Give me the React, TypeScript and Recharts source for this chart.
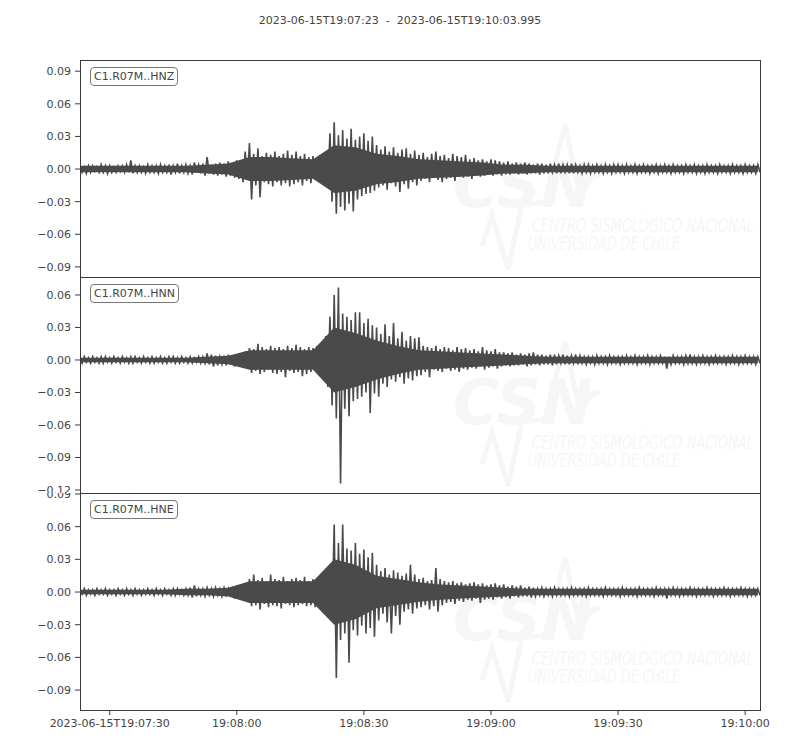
import { Area, AreaChart, Line, LineChart, XAxis, YAxis } from "recharts";

const WAVE = "#4a4a4a";
const INK = "#444444";
const SPINE = "#3a3a3a";
const MARK = "#f6f6f6";
const FONT = "'DejaVu Sans', sans-serif";

const title = "2023-06-15T19:07:23  -  2023-06-15T19:10:03.995";

// seconds after 19:07:23
const timeTicks = [7, 37, 67, 97, 127, 157];
const timeLabels = ["2023-06-15T19:07:30", "19:08:00", "19:08:30", "19:09:00", "19:09:30", "19:10:00"];

const ticksZ = [-0.09, -0.06, -0.03, 0, 0.03, 0.06, 0.09];
const ticksN = [-0.12, -0.09, -0.06, -0.03, 0, 0.03, 0.06];
const ticksE = [-0.09, -0.06, -0.03, 0, 0.03, 0.06, 0.09];

// peaks per second, thousandths (hi = upper swing, lo = lower swing)
const hnzHi = [
  3, 2, 3, 3, 2, 4, 3, 3, 2, 3,
  3, 4, 8, 3, 3, 2, 4, 3, 3, 4,
  3, 4, 3, 5, 3, 4, 3, 6, 4, 5,
  11, 4, 5, 6, 5, 7, 6, 8, 7, 16,
  24, 14, 19, 12, 15, 13, 16, 12, 14, 17,
  13, 16, 12, 14, 11, 12, 10, 11, 15, 33,
  43, 31, 36, 28, 37, 27, 30, 33, 26, 30,
  22, 18, 21, 16, 20, 15, 18, 19, 14, 17,
  13, 15, 11, 14, 16, 12, 13, 10, 14, 12,
  11, 13, 9, 10, 8, 9, 7, 9, 8, 7,
  6, 7, 5, 6, 5, 6, 5, 4, 5, 5,
  4, 5, 4, 5, 4, 4, 5, 4, 3, 4,
  4, 3, 4, 3, 4, 3, 4, 4, 3, 4,
  3, 4, 3, 4, 3, 3, 4, 3, 4, 3,
  4, 3, 3, 4, 3, 4, 3, 3, 4, 3,
  3, 4, 3, 3, 4, 3, 3, 4, 3, 3,
  4,
];
const hnzLo = [
  -3, -4, -3, -2, -3, -3, -4, -3, -3, -2,
  -3, -3, -4, -3, -3, -4, -3, -3, -4, -3,
  -3, -5, -3, -4, -3, -4, -5, -3, -4, -6,
  -4, -5, -6, -5, -7, -6, -8, -9, -12, -10,
  -28, -15, -26, -12, -14, -16, -12, -15, -13, -16,
  -14, -12, -15, -11, -13, -10, -12, -9, -14, -30,
  -41, -35, -38, -32, -39, -28, -25, -23, -22, -20,
  -17, -15, -19, -13, -16, -21, -14, -18, -12, -15,
  -11, -9, -12, -8, -10, -12, -9, -8, -11, -7,
  -8, -7, -9, -6, -7, -6, -5, -6, -5, -6,
  -5, -5, -4, -5, -4, -5, -4, -4, -5, -4,
  -4, -3, -4, -4, -3, -4, -4, -3, -4, -3,
  -4, -3, -3, -4, -3, -4, -3, -3, -4, -3,
  -3, -4, -3, -3, -4, -3, -4, -3, -3, -4,
  -3, -3, -4, -3, -3, -4, -3, -4, -3, -3,
  -4, -3, -3, -4, -3, -3, -4, -3, -3, -4,
  -3,
];

const hnnHi = [
  2, 3, 2, 3, 2, 3, 3, 2, 3, 2,
  3, 2, 3, 3, 2, 3, 2, 3, 2, 3,
  2, 3, 3, 2, 3, 2, 3, 2, 3, 3,
  6, 5, 4, 3, 4, 5, 4, 5, 6, 8,
  11, 10, 15, 12, 10, 13, 11, 12, 10, 13,
  11, 14, 12, 10, 12, 11, 13, 10, 22, 40,
  60, 67, 43, 40, 37, 44, 44, 34, 38, 32,
  30, 24, 33, 22, 34, 20, 26, 18, 22, 20,
  21, 13, 12, 11, 13, 10, 12, 11, 9, 12,
  10, 11, 9, 10, 8, 12, 9, 8, 10, 7,
  7, 6, 7, 5, 6, 5, 6, 7, 5, 5,
  4, 5, 5, 4, 5, 4, 4, 5, 4, 3,
  3, 3, 4, 3, 3, 4, 3, 3, 3, 4,
  3, 4, 3, 3, 4, 3, 3, 4, 3, 3,
  4, 3, 3, 4, 5, 3, 3, 4, 3, 3,
  4, 3, 3, 3, 4, 3, 3, 4, 3, 3,
  3,
];
const hnnLo = [
  -3, -2, -3, -2, -3, -3, -2, -3, -2, -3,
  -2, -3, -3, -2, -3, -2, -3, -3, -2, -3,
  -3, -2, -3, -3, -2, -3, -3, -2, -3, -3,
  -4, -6, -5, -4, -5, -4, -6, -5, -5, -6,
  -12, -10, -13, -11, -9, -12, -13, -11, -16, -10,
  -12, -11, -15, -13, -11, -10, -14, -12, -25, -42,
  -54, -114, -45, -52, -38, -36, -34, -30, -49, -31,
  -34, -22, -25, -18, -20, -16, -22, -17, -19, -15,
  -14, -11, -16, -9, -10, -11, -8, -10, -9, -11,
  -8, -9, -7, -8, -6, -9, -7, -6, -8, -6,
  -5, -6, -5, -5, -4, -6, -5, -4, -5, -4,
  -4, -5, -4, -3, -4, -4, -3, -4, -3, -4,
  -3, -4, -3, -3, -4, -3, -3, -4, -3, -3,
  -3, -4, -3, -3, -4, -3, -3, -3, -8, -4,
  -3, -3, -4, -3, -3, -4, -3, -3, -4, -3,
  -3, -3, -4, -3, -3, -4, -3, -3, -3, -4,
  -3,
];

const hneHi = [
  2, 3, 2, 2, 3, 2, 3, 2, 2, 3,
  2, 3, 2, 3, 2, 2, 3, 2, 3, 2,
  3, 2, 3, 3, 2, 3, 4, 6, 3, 3,
  4, 3, 4, 3, 4, 3, 5, 6, 5, 7,
  12, 16, 11, 13, 10, 16, 12, 11, 14, 10,
  12, 13, 11, 14, 10, 12, 11, 13, 20, 25,
  62, 45, 62, 40, 38, 45, 35, 39, 32, 36,
  25, 19, 22, 16, 20, 18, 15, 17, 25, 16,
  12, 13, 10, 11, 22, 12, 10, 9, 10, 8,
  9, 7, 8, 9, 7, 8, 6, 7, 8, 6,
  7, 5, 6, 5, 6, 4, 5, 4, 3, 4,
  3, 3, 4, 3, 3, 3, 4, 3, 3, 3,
  4, 3, 3, 3, 4, 3, 3, 3, 4, 3,
  3, 3, 4, 3, 3, 3, 4, 3, 3, 3,
  4, 3, 3, 3, 4, 3, 3, 3, 4, 3,
  3, 3, 4, 3, 3, 3, 4, 3, 3, 3,
  3,
];
const hneLo = [
  -2, -3, -2, -3, -2, -2, -3, -2, -3, -2,
  -3, -2, -3, -2, -3, -2, -2, -3, -2, -3,
  -2, -3, -3, -2, -3, -3, -5, -4, -3, -4,
  -3, -4, -3, -4, -3, -4, -6, -5, -6, -7,
  -13, -12, -16, -11, -14, -12, -13, -15, -11, -12,
  -14, -12, -11, -13, -12, -14, -11, -12, -20, -25,
  -79, -44, -38, -65, -35, -40, -31, -38, -33, -41,
  -26, -20, -28, -38, -22, -30, -18, -16, -20, -15,
  -14, -12, -16, -13, -18, -12, -10, -9, -11, -8,
  -9, -7, -8, -6, -10, -7, -6, -7, -5, -6,
  -5, -6, -4, -5, -4, -4, -5, -4, -3, -4,
  -3, -4, -3, -3, -3, -4, -3, -3, -3, -4,
  -3, -3, -3, -4, -3, -3, -3, -4, -3, -3,
  -3, -4, -3, -3, -3, -4, -3, -3, -6, -3,
  -3, -4, -3, -3, -3, -4, -3, -3, -3, -4,
  -3, -3, -3, -4, -3, -3, -3, -4, -3, -3,
  -3,
];

// solid core of the trace, half-width every 5 s (t = 0, 5, ... 160), thousandths
const hnzCore = [3, 3, 3, 3, 3, 3, 4, 5, 11, 11, 10, 9, 22, 20, 14, 12, 9, 8, 7, 6, 4, 4, 3, 3, 3, 3, 3, 3, 3, 3, 3, 3, 3];
const hnnCore = [2, 2, 2, 2, 2, 2, 3, 4, 9, 9, 9, 9, 30, 25, 18, 13, 9, 8, 7, 6, 5, 4, 3, 3, 3, 3, 3, 3, 3, 3, 3, 3, 3];
const hneCore = [2, 2, 2, 2, 2, 3, 3, 4, 10, 10, 10, 10, 30, 25, 15, 12, 9, 7, 6, 5, 4, 3, 3, 3, 3, 3, 3, 3, 3, 3, 3, 3, 3];

// upper swing on the second, lower swing half a second later
function toRows(hi: number[], lo: number[]) {
  return hi.flatMap((h, i) => [
    { t: i, v: h / 1000 },
    { t: i + 0.5, v: lo[i] / 1000 },
  ]);
}

function toCore(core: number[]) {
  return core.map((c, i) => ({ t: i * 5, band: [-c / 1000, c / 1000] }));
}

const fmtY = (v: number) => v.toFixed(2).replace("-", "\u2212");
const fmtT = (v: number) => timeLabels[timeTicks.indexOf(v)] ?? "";

const tickStyle = { fill: INK, fontSize: 11, fontFamily: FONT };
const NARROW = "'Liberation Sans Narrow', 'DejaVu Sans Condensed', sans-serif";
const T_DOMAIN: [number, number] = [0, 160.5];

function Watermark({ top }: { top: number }) {
  const y = top + 147;
  return (
    <g>
      <text x={453} y={y} fontSize={62} fontStyle="italic" fontWeight="bold" fill={MARK} fontFamily={FONT}>
        CSN
      </text>
      <polyline
        points={`482,${y + 40} 492,${y + 8} 508,${y + 62} 522,${y - 2} 545,${y - 5} 565,${y - 82} 580,${y - 12} 592,${y - 30} 600,${y - 32}`}
        fill="none"
        stroke={MARK}
        strokeWidth={5}
      />
      <text x={532} y={y + 25} fontSize={19} fontStyle="italic" fill={MARK} fontFamily={NARROW} textLength={222} lengthAdjust="spacingAndGlyphs">
        CENTRO SISMOLÓGICO NACIONAL
      </text>
      <text x={528} y={y + 43} fontSize={19} fontStyle="italic" fill={MARK} fontFamily={NARROW} textLength={152} lengthAdjust="spacingAndGlyphs">
        UNIVERSIDAD DE CHILE
      </text>
    </g>
  );
}

function Panel({
  top,
  height,
  hi,
  lo,
  core,
  domain,
  ticks,
  code,
  showTime = false,
}: {
  top: number;
  height: number;
  hi: number[];
  lo: number[];
  core: number[];
  domain: [number, number];
  ticks: number[];
  code: string;
  showTime?: boolean;
}) {
  const data = toRows(hi, lo);
  const coreRows = toCore(core);
  const h = height + (showTime ? 40 : 0);
  const margin = { top: 0, right: 40, bottom: 0, left: 0 };
  return (
    <>
      {/* core band in the same plot frame; hidden axes take no room, so the margin does */}
      <div style={{ position: "absolute", left: 0, top }}>
        <AreaChart
          width={800}
          height={h}
          data={coreRows}
          margin={{ top: 0, right: 40, bottom: showTime ? 40 : 0, left: 80 }}
        >
          <XAxis type="number" dataKey="t" domain={T_DOMAIN} allowDataOverflow hide />
          <YAxis type="number" domain={domain} allowDataOverflow hide />
          <Area
            type="linear"
            dataKey="band"
            stroke="none"
            fill={WAVE}
            fillOpacity={1}
            dot={false}
            activeDot={false}
            isAnimationActive={false}
          />
        </AreaChart>
      </div>
      <div style={{ position: "absolute", left: 0, top }}>
        <LineChart width={800} height={h} data={data} margin={margin} style={{ overflow: "visible" }}>
          <XAxis
            type="number"
            dataKey="t"
            domain={T_DOMAIN}
            allowDataOverflow
            ticks={timeTicks}
            tickFormatter={fmtT}
            interval={0}
            hide={!showTime}
            height={40}
            axisLine={false}
            tickLine={{ stroke: SPINE }}
            tickSize={5}
            tickMargin={4}
            tick={tickStyle}
          />
          <YAxis
            type="number"
            domain={domain}
            allowDataOverflow
            ticks={ticks}
            tickFormatter={fmtY}
            interval={0}
            width={80}
            axisLine={false}
            tickLine={{ stroke: SPINE }}
            tickSize={5}
            tickMargin={4}
            tick={tickStyle}
          />
          <Line
            type="linear"
            dataKey="v"
            stroke={WAVE}
            strokeWidth={1.6}
            dot={false}
            activeDot={false}
            isAnimationActive={false}
          />
        </LineChart>
      </div>
      <div
        style={{
          position: "absolute",
          left: 80,
          top,
          width: 681,
          height: height + 1,
          boxSizing: "border-box",
          border: `1px solid ${SPINE}`,
          pointerEvents: "none",
        }}
      />
      <div
        style={{
          position: "absolute",
          left: 90,
          top: top + 7,
          padding: "2px 3px",
          border: "1px solid #777",
          borderRadius: 4,
          background: "#fff",
          color: INK,
          fontFamily: FONT,
          fontSize: 11,
          lineHeight: "13px",
          whiteSpace: "nowrap",
        }}
      >
        {code}
      </div>
    </>
  );
}

export default function App() {
  return (
    <div style={{ position: "absolute", left: 0, top: 0, width: 800, height: 750, background: "#fff" }}>
      <svg width={800} height={750} style={{ position: "absolute", left: 0, top: 0 }}>
        <Watermark top={60} />
        <Watermark top={277} />
        <Watermark top={493} />
      </svg>
      <div
        style={{
          position: "absolute",
          top: 14,
          left: 0,
          width: 800,
          textAlign: "center",
          fontFamily: FONT,
          fontSize: 11,
          color: INK,
          whiteSpace: "pre",
        }}
      >
        {title}
      </div>
      <Panel top={60} height={217} hi={hnzHi} lo={hnzLo} core={hnzCore} domain={[-0.0993, 0.1003]} ticks={ticksZ} code="C1.R07M..HNZ" />
      <Panel top={277} height={216} hi={hnnHi} lo={hnnLo} core={hnnCore} domain={[-0.1228, 0.0766]} ticks={ticksN} code="C1.R07M..HNN" />
      <Panel
        top={493}
        height={217}
        hi={hneHi}
        lo={hneLo}
        core={hneCore}
        domain={[-0.1083, 0.0909]}
        ticks={ticksE}
        code="C1.R07M..HNE"
        showTime
      />
    </div>
  );
}
